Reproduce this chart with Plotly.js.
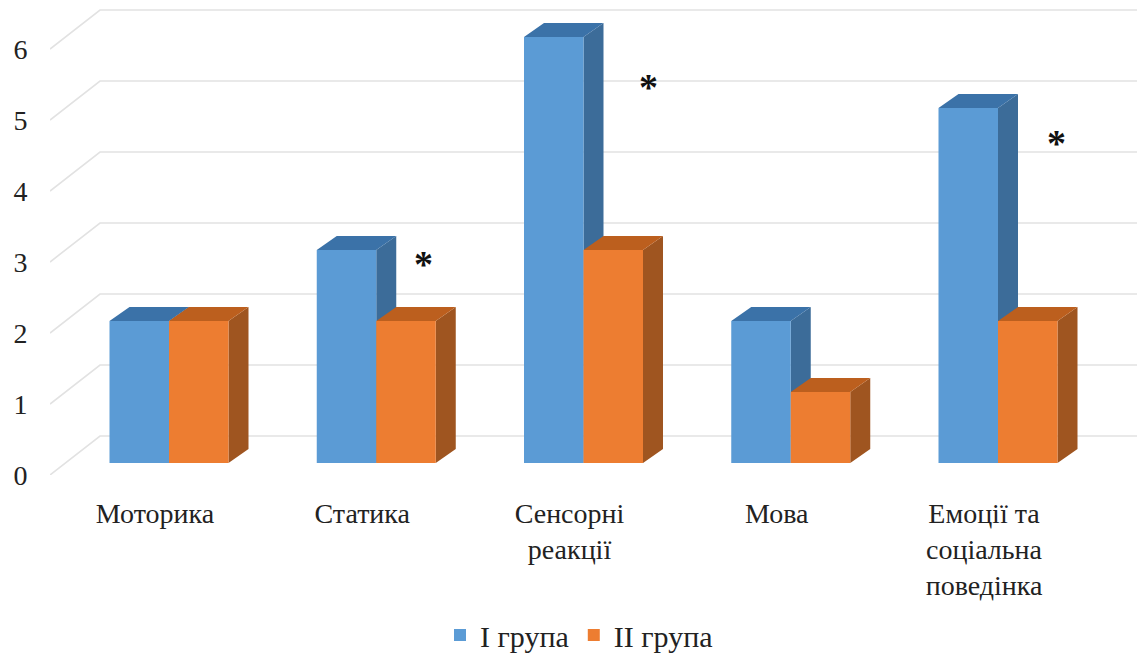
<!DOCTYPE html>
<html><head><meta charset="utf-8">
<script src="https://cdn.plot.ly/plotly-3.0.1.min.js"></script>
<style>html,body{margin:0;padding:0;background:#fff}</style></head>
<body><div id="chart" style="width:1137px;height:657px"></div>
<script>
const categories = ['Моторика','Статика','Сенсорні<br>реакції','Мова','Емоції та<br>соціальна<br>поведінка'];
const group1 = [2,3,6,2,5];
const group2 = [2,2,3,1,2];
const seriesNames = ['I група','II група'];
const yTicks = [0,1,2,3,4,5,6];
const starCategory = [1,2,4];
const starHeight = [2.97,5.47,4.67];

const PXX = 207.25, PXY = 71;
const barW = 59.5/PXX, shiftX = 14/PXX, baseY = 12/PXY;
const depthX = 20/PXX, depthY = 14/PXY;
const wallX = 50/PXX, wallY = 39/PXY;
const xRange = [-105/PXX, 982/PXX], yRange = [0, 475/PXY];
const idx = categories.map((_,i)=>i);

const traces = [];
yTicks.forEach(v=>{
  traces.push({type:'scatter',mode:'lines',x:[xRange[0],xRange[0]+wallX,xRange[1]],
    y:[v,v+wallY,v+wallY],line:{color:'#e2e2e2',width:1.6},showlegend:false,hoverinfo:'skip'});
});
function faces(vals, off, sideCol, topCol){
  const sx=[],sy=[],tx=[],ty=[];
  vals.forEach((v,i)=>{
    const l=i+shiftX+off, r=l+barW, b=baseY, t=baseY+v;
    sx.push(r,r+depthX,r+depthX,r,r,null); sy.push(b,b+depthY,t+depthY,t,b,null);
    tx.push(l,l+depthX,r+depthX,r,l,null); ty.push(t,t+depthY,t+depthY,t,t,null);
  });
  traces.push({type:'scatter',mode:'lines',x:sx,y:sy,fill:'toself',fillcolor:sideCol,line:{width:0,color:sideCol},showlegend:false,hoverinfo:'skip'});
  traces.push({type:'scatter',mode:'lines',x:tx,y:ty,fill:'toself',fillcolor:topCol,line:{width:0,color:topCol},showlegend:false,hoverinfo:'skip'});
}
faces(group1,-barW,'#3c6c99','#3b72a8');
faces(group2,0,'#9f5520','#bc5f1e');
[[group1,-barW,'#5b9bd5',seriesNames[0]],[group2,0,'#ed7d31',seriesNames[1]]].forEach(([vals,off,col,name])=>{
  traces.push({type:'bar',xaxis:'x2',yaxis:'y2',x:idx.map(i=>i+shiftX),y:vals,base:vals.map(()=>baseY),
    width:barW,offset:off,marker:{color:col,line:{width:0}},name:name});
});
const font = {family:'Liberation Serif',size:28,color:'#222'};
const layout = {
  width:1137,height:657,paper_bgcolor:'#fff',plot_bgcolor:'rgba(0,0,0,0)',
  margin:{l:50,r:0,t:0,b:182},barmode:'overlay',font:font,
  xaxis:{range:xRange,tickvals:idx,ticktext:categories,showgrid:false,zeroline:false,showline:false,
    ticks:'outside',ticklen:13,tickcolor:'rgba(0,0,0,0)',tickfont:font,fixedrange:true},
  yaxis:{range:yRange,tickvals:yTicks,showgrid:false,zeroline:false,showline:false,
    ticks:'outside',ticklen:16,tickcolor:'rgba(0,0,0,0)',tickfont:font,fixedrange:true},
  xaxis2:{range:xRange,overlaying:'x',visible:false,fixedrange:true},
  yaxis2:{range:yRange,overlaying:'y',visible:false,fixedrange:true},
  legend:{orientation:'h',xref:'container',yref:'container',x:579/1137,xanchor:'center',y:22/657,yanchor:'middle',
    font:{family:'Liberation Serif',size:30,color:'#222'},bgcolor:'rgba(0,0,0,0)'},
  annotations:starCategory.map((c,k)=>({xref:'x',yref:'y',x:c+(c==1?61/PXX:c==2?79/PXX:72/PXX),y:starHeight[k],text:'<b>*</b>',showarrow:false,
    font:{family:'Liberation Serif',size:38,color:'#111'}}))
};
Plotly.newPlot('chart',traces,layout,{displayModeBar:false,staticPlot:true});
</script></body></html>
